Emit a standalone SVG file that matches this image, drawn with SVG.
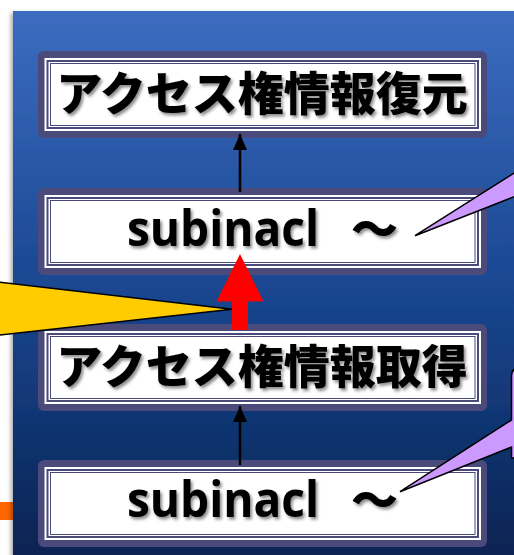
<svg xmlns="http://www.w3.org/2000/svg" width="514" height="555" viewBox="0 0 514 555">
  <defs>
    <linearGradient id="panelGrad" x1="0" y1="0" x2="0" y2="1">
      <stop offset="0" stop-color="#3c6cc0"/>
      <stop offset="0.5" stop-color="#1a4690"/>
      <stop offset="1" stop-color="#06214f"/>
    </linearGradient>
    <filter id="panelShadow" x="-5%" y="-5%" width="110%" height="110%">
      <feDropShadow dx="-2" dy="2" stdDeviation="2" flood-color="#000" flood-opacity="0.35"/>
    </filter>
    <filter id="textShadow" x="-10%" y="-20%" width="120%" height="150%">
      <feDropShadow dx="2" dy="2.5" stdDeviation="1.5" flood-color="#000" flood-opacity="0.45"/>
    </filter>
    <marker id="arrowBlack" viewBox="0 0 16 14" refX="16" refY="7" markerWidth="16" markerHeight="14" markerUnits="userSpaceOnUse" orient="auto">
      <path d="M0,0 L16,7 L0,14 Z" fill="#000"/>
    </marker>
  </defs>
  <style>
    .frame { fill: #4a4a7b; }
    .inner { fill: #ffffff; }
    .line1 { fill: none; stroke: #4a4a7b; stroke-width: 2; }
    .line2 { fill: none; stroke: #4a4a7b; stroke-width: 1; }
    .jp { font-family: "Noto Sans CJK JP", sans-serif; font-weight: 900; font-size: 46px; fill: #000; text-anchor: middle; filter: url(#textShadow); }
    .en { font-family: "Open Sans", "Noto Sans CJK JP", sans-serif; font-weight: 700; font-size: 50px; fill: #000; filter: url(#textShadow); }
    .tilde { font-family: "Noto Sans CJK JP", sans-serif; font-weight: 900; font-size: 47px; }
    .conn { stroke: #000; stroke-width: 2.5; fill: none; }
    .callout { stroke: #000; stroke-width: 1.5; stroke-linejoin: miter; }
  </style>

  <rect x="0" y="0" width="514" height="555" fill="#ffffff"/>
  <rect id="orange-mark" x="0" y="502" width="16" height="18" fill="#ff6600"/>

  <rect id="panel" x="13" y="11" width="520" height="560" fill="url(#panelGrad)" filter="url(#panelShadow)"/>

  <g id="node-restore">
    <rect class="frame" x="38" y="51" width="449" height="87" rx="6"/>
    <rect class="inner" x="44.5" y="58" width="436.5" height="73"/>
    <rect class="line1" x="47.5" y="61" width="430.5" height="67"/>
    <rect class="line2" x="50.5" y="63.5" width="424.5" height="62"/>
    <text class="jp" x="262" y="110">アクセス権情報復元</text>
  </g>

  <g id="node-subinacl-1">
    <rect class="frame" x="38" y="188" width="449" height="87" rx="6"/>
    <rect class="inner" x="44.5" y="195" width="436.5" height="73"/>
    <rect class="line1" x="47.5" y="198" width="430.5" height="67"/>
    <rect class="line2" x="50.5" y="200.5" width="424.5" height="62"/>
    <text class="en" y="246"><tspan x="127" textLength="192" lengthAdjust="spacingAndGlyphs">subinacl</tspan><tspan> </tspan><tspan class="tilde" x="351">～</tspan></text>
  </g>

  <g id="node-acquire">
    <rect class="frame" x="38" y="324" width="449" height="87" rx="6"/>
    <rect class="inner" x="44.5" y="331" width="436.5" height="73"/>
    <rect class="line1" x="47.5" y="334" width="430.5" height="67"/>
    <rect class="line2" x="50.5" y="336.5" width="424.5" height="62"/>
    <text class="jp" x="262" y="383">アクセス権情報取得</text>
  </g>

  <g id="node-subinacl-2">
    <rect class="frame" x="38" y="460" width="449" height="87" rx="6"/>
    <rect class="inner" x="44.5" y="467" width="436.5" height="73"/>
    <rect class="line1" x="47.5" y="470" width="430.5" height="67"/>
    <rect class="line2" x="50.5" y="472.5" width="424.5" height="62"/>
    <text class="en" y="517"><tspan x="127" textLength="192" lengthAdjust="spacingAndGlyphs">subinacl</tspan><tspan> </tspan><tspan class="tilde" x="351">～</tspan></text>
  </g>

  <g id="connectors">
    <line class="conn" x1="240" y1="192" x2="240" y2="134" marker-end="url(#arrowBlack)"/>
    <line class="conn" x1="240" y1="465" x2="240" y2="406" marker-end="url(#arrowBlack)"/>
    <path id="red-arrow" d="M232,330 L232,301.5 L216.5,301.5 L240,254 L263.5,301.5 L248,301.5 L248,330 Z" fill="#ff0000"/>
  </g>

  <g id="callouts">
    <path class="callout" d="M-10,281 L232,309.3 L-10,336 Z" fill="#ffcc00"/>
    <path class="callout" d="M415,235.7 L530,163 L530,190.5 Z" fill="#cc99ff"/>
    <path class="callout" d="M400,491.7 L511.5,420 L511.5,376 Q511.5,368 519.5,368 L560,368 L560,458 L511.5,458 L511.5,447 Z" fill="#cc99ff"/>
  </g>
</svg>
